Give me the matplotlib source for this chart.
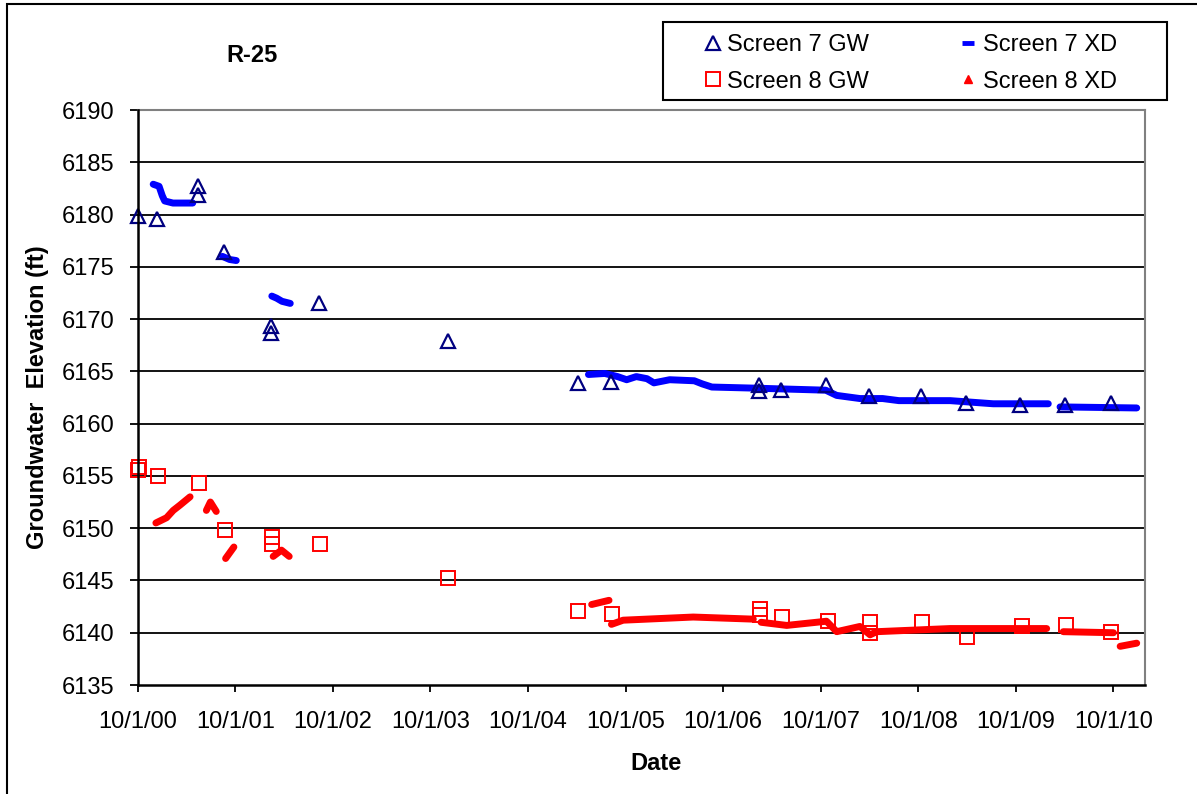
import matplotlib
matplotlib.use("Agg")
import matplotlib.pyplot as plt
import matplotlib.dates as mdates
import numpy as np
from matplotlib.lines import Line2D
from matplotlib.patches import Rectangle
from matplotlib.ticker import FuncFormatter

plt.rcParams["font.family"] = ["Liberation Sans", "DejaVu Sans"]
FS = 17

# ---- grab samples (GW) -------------------------------------------------------
s7_gw_dates = ["2000-10-03", "2000-12-11", "2001-05-15", "2001-05-15", "2001-08-20",
               "2002-02-12", "2002-02-12", "2002-08-11", "2003-12-06", "2005-04-06",
               "2005-08-09", "2007-02-13", "2007-02-13", "2007-05-06", "2007-10-20",
               "2008-03-30", "2008-10-11", "2009-03-29", "2009-10-18", "2010-04-04",
               "2010-09-20"]
s7_gw_vals = [6179.9, 6179.6, 6182.7, 6181.9, 6176.4,
              6169.3, 6168.7, 6171.5, 6167.9, 6163.9,
              6164.0, 6163.7, 6163.1, 6163.2, 6163.7,
              6162.6, 6162.6, 6162.0, 6161.8, 6161.8,
              6162.0]

s8_gw_dates = ["2000-10-01", "2000-10-07", "2000-12-15", "2001-05-17", "2001-08-24",
               "2002-02-15", "2002-02-15", "2002-08-16", "2003-12-06", "2005-04-06",
               "2005-08-11", "2007-02-16", "2007-02-16", "2007-05-11", "2007-10-29",
               "2008-04-03", "2008-04-03", "2008-10-16", "2009-03-31", "2009-10-23",
               "2010-04-06", "2010-09-22"]
s8_gw_vals = [6155.6, 6155.9, 6155.0, 6154.3, 6149.8,
              6149.2, 6148.5, 6148.5, 6145.2, 6142.1,
              6141.8, 6142.3, 6141.7, 6141.5, 6141.1,
              6141.0, 6140.0, 6141.0, 6139.6, 6140.6,
              6140.7, 6140.1]

# ---- transducer records (XD), one list per continuous stretch ----------------
s7_xd_dates = [
    ["2000-11-28", "2000-12-20", "2001-01-01", "2001-01-10", "2001-02-10", "2001-04-25"],
    ["2001-08-14", "2001-09-10", "2001-10-05"],
    ["2002-02-15", "2002-03-05", "2002-03-25", "2002-04-25"],
    ["2005-05-15", "2005-07-15", "2005-09-01", "2005-10-05", "2005-11-10", "2005-12-20",
     "2006-01-15", "2006-03-15", "2006-06-15", "2006-07-15", "2006-08-20", "2007-01-20",
     "2007-10-20", "2007-11-30", "2008-02-25", "2008-05-20", "2008-07-20", "2009-01-28",
     "2009-07-08", "2010-01-30"],
    ["2010-03-15", "2010-12-27"],
]
s7_xd_vals = [
    [6182.9, 6182.7, 6181.8, 6181.3, 6181.1, 6181.1],
    [6176.0, 6175.7, 6175.6],
    [6172.2, 6172.0, 6171.7, 6171.5],
    [6164.7, 6164.8, 6164.5, 6164.2, 6164.5, 6164.3,
     6163.9, 6164.2, 6164.1, 6163.8, 6163.5, 6163.4,
     6163.2, 6162.7, 6162.4, 6162.4, 6162.2, 6162.2,
     6161.9, 6161.9],
    [6161.6, 6161.5],
]

s8_xd_dates = [
    ["2000-12-08", "2001-01-17", "2001-02-11", "2001-03-08", "2001-04-15"],
    ["2001-06-15", "2001-06-30", "2001-07-22"],
    ["2001-08-26", "2001-09-26"],
    ["2002-02-20", "2002-03-23", "2002-04-21"],
    ["2005-05-27", "2005-07-31"],
    ["2005-08-09", "2005-09-22", "2006-06-11", "2007-01-22"],
    ["2007-02-20", "2007-05-27", "2007-10-23", "2007-11-30", "2008-02-25", "2008-04-03",
     "2008-04-28", "2009-01-28", "2010-01-24"],
    ["2010-03-27", "2010-10-01"],
    ["2010-10-26", "2010-12-27"],
]
s8_xd_vals = [
    [6150.5, 6151.0, 6151.7, 6152.2, 6153.0],
    [6151.7, 6152.5, 6151.6],
    [6147.1, 6148.2],
    [6147.3, 6147.9, 6147.3],
    [6142.7, 6143.1],
    [6140.8, 6141.2, 6141.5, 6141.3],
    [6141.0, 6140.7, 6141.1, 6140.1, 6140.6, 6139.8,
     6140.1, 6140.4, 6140.4],
    [6140.1, 6140.0],
    [6138.7, 6139.0],
]

NAVY, BLUE, RED = "#000080", "#0000FF", "#FF0000"
d = lambda s: np.array(s, dtype="datetime64[D]")

fig = plt.figure(figsize=(11.97, 7.94), dpi=100)
W, H = 1197, 794
ax = fig.add_axes([137.7 / W, 1 - 685 / H, (1145 - 137.7) / W, (685 - 110) / H])

# transducer bands
for ds, vs in zip(s7_xd_dates, s7_xd_vals):
    ax.plot(d(ds), vs, color=BLUE, lw=5, solid_capstyle="round", zorder=3)
for ds, vs in zip(s8_xd_dates, s8_xd_vals):
    ax.plot(d(ds), vs, color=RED, lw=5, solid_capstyle="round", zorder=3)

# grab samples
ax.plot(d(s7_gw_dates), s7_gw_vals, ls="none", marker="^", ms=10, mew=1.6,
        mfc="none", mec=NAVY, zorder=4, clip_on=False)
ax.plot(d(s8_gw_dates), s8_gw_vals, ls="none", marker="s", ms=10, mew=1.4,
        mfc="none", mec=RED, zorder=4, clip_on=False)

ax.set_ylim(6135, 6190)
ax.set_xlim(np.datetime64("2000-10-01"), np.datetime64("2011-01-27"))
ax.set_yticks(np.arange(6135, 6191, 5))
ax.xaxis.set_major_locator(mdates.YearLocator(base=1, month=10, day=1))
ax.xaxis.set_major_formatter(FuncFormatter(
    lambda v, p: (lambda t: f"{t.month}/{t.day}/{t:%y}")(mdates.num2date(v))))

for y in range(6140, 6190, 5):
    ax.axhline(y, color="black", lw=1.3, zorder=1)

for s in ("top", "right"):
    ax.spines[s].set_color("#808080")
    ax.spines[s].set_linewidth(1.5)
for s in ("left", "bottom"):
    ax.spines[s].set_color("black")
    ax.spines[s].set_linewidth(1.8)
    ax.spines[s].set_zorder(5)
ax.tick_params(axis="y", direction="out", length=6, width=1.3, pad=11, labelsize=FS)
ax.tick_params(axis="x", direction="out", length=5, width=1.3, pad=14, labelsize=FS)

ax.set_ylabel("Groundwater  Elevation (ft)", fontsize=FS, fontweight="bold", labelpad=9)
ax.set_xlabel("Date", fontsize=FS, fontweight="bold")
ax.xaxis.set_label_coords((656 - 137.7) / (1145 - 137.7), -(752 - 685) / 575)
ax.xaxis.label.set_va("top")

fig.text(252 / W, 1 - 55 / H, "R-25", fontsize=FS, fontweight="bold",
         ha="center", va="center")

# legend box + entries
fig.patches.append(Rectangle((663 / W, 1 - 100 / H), (1167 - 663) / W, 78 / H,
                             transform=fig.transFigure, fill=False,
                             edgecolor="black", lw=1.5))
handles = [
    Line2D([], [], ls="none", marker="^", ms=10, mew=1.6, mfc="none", mec=NAVY),
    Line2D([], [], ls="none", marker="s", ms=10, mew=1.4, mfc="none", mec=RED),
    Line2D([], [], ls="none", marker="_", ms=8, mew=3.5, color=BLUE),
    Line2D([], [], ls="none", marker="^", ms=6, color=RED),
]
labels = ["Screen 7 GW", "Screen 8 GW", "Screen 7 XD", "Screen 8 XD"]
fig.legend(handles, labels, ncol=2, loc="upper left", frameon=False,
           bbox_to_anchor=(705 / W, 1 - 34 / H), fontsize=FS, borderpad=0,
           borderaxespad=0, handlelength=0.7, handletextpad=0.25,
           columnspacing=3.85, labelspacing=0.62)

# outer chart frame
fig.patches.append(Rectangle((7 / W, -0.1), 1.2, 1.1 - 4 / H,
                             transform=fig.transFigure, fill=False,
                             edgecolor="black", lw=1.5))

fig.savefig("out.png", dpi=100)
